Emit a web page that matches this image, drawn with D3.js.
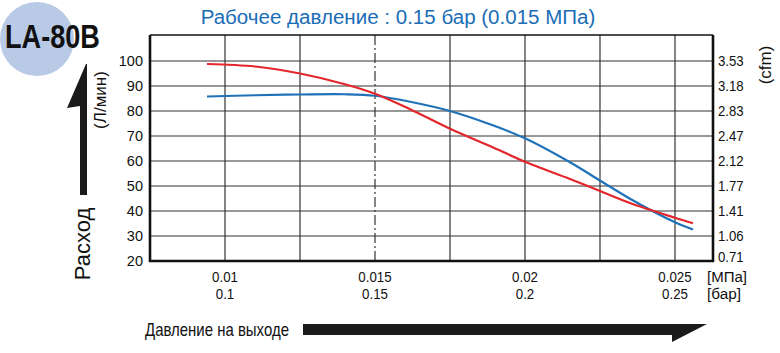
<!DOCTYPE html>
<html>
<head>
<meta charset="utf-8">
<script src="https://cdn.jsdelivr.net/npm/d3@7"></script>
<style>
  body { margin: 0; background: #fff; }
  svg { display: block; }
  text { font-family: "Liberation Sans", Arial, sans-serif; fill: #111; }
</style>
</head>
<body>
<svg id="chart"></svg>
<script>
// outlet pressure, MPa
const pressure = [0.0094, 0.0110, 0.0125, 0.0140, 0.0150, 0.01617, 0.0175, 0.01883, 0.0200, 0.0215, 0.0225, 0.0235, 0.0250, 0.0256];
// flow, L/min
const redFlow  = [98.8, 97.8, 95.0, 90.7, 86.9, 80.7, 72.9, 66.0, 59.7, 52.8, 48.0, 43.2, 37.3, 35.1];
const blueFlow = [85.8, 86.3, 86.6, 86.7, 86.1, 83.7, 80.0, 74.7, 69.1, 59.5, 52.2, 44.9, 35.5, 32.6];

const flowTicks = [20, 30, 40, 50, 60, 70, 80, 90, 100];
const cfmLabels = ['0.71', '1.06', '1.41', '1.77', '2.12', '2.47', '2.83', '3.18', '3.53'];
const gridX = [0.01, 0.0125, 0.015, 0.0175, 0.02, 0.0225, 0.025];
const mpaTicks = [0.01, 0.015, 0.02, 0.025];
const mpaLabels = ['0.01', '0.015', '0.02', '0.025'];
const barLabels = ['0.1', '0.15', '0.2', '0.25'];

const W = 780, H = 353;
const margin = { top: 35, bottom: 92, left: 150, right: 67 };

const svg = d3.select('#chart').attr('width', W).attr('height', H);

const x = d3.scaleLinear().domain([0.0075, 0.026267]).range([margin.left, W - margin.right]);
const y = d3.scaleLinear().domain([20, 110.4]).range([H - margin.bottom, margin.top]);

// condensed text: horizontal squeeze, either by factor k or to a target width
function ctext(parent, px, py, str, size, opt) {
  opt = opt || {};
  const g = parent.append('g');
  const t = g.append('text')
    .style('font-size', size + 'px')
    .style('font-weight', opt.bold ? 'bold' : null)
    .style('fill', opt.color || '#111')
    .attr('text-anchor', opt.anchor || 'start')
    .text(str);
  let k = opt.k || 0.88;
  if (opt.width) k = opt.width / t.node().getComputedTextLength();
  g.attr('transform', `translate(${px},${py}) scale(${k},1)`);
  return g;
}

// badge
svg.append('circle').attr('cx', 37).attr('cy', 39).attr('r', 37).attr('fill', '#b9cae6');
ctext(svg, 5, 48, 'LA-80B', 34, { bold: true, width: 95 });

// title
ctext(svg, 398, 24, 'Рабочее давление : 0.15 бар (0.015 МПа)', 21, { anchor: 'middle', width: 395, color: '#1a6db5' });

// grid
const x0 = x.range()[0], x1 = x.range()[1], yb = y.range()[0], yt = y.range()[1];
const grid = svg.append('g');
grid.selectAll('.hg').data(flowTicks.slice(1)).join('line')
  .attr('x1', x0).attr('x2', x1)
  .attr('y1', d => y(d)).attr('y2', d => y(d))
  .attr('stroke', '#333').attr('stroke-width', 1.2);
grid.selectAll('.vg').data(gridX).join('line')
  .attr('x1', d => x(d)).attr('x2', d => x(d))
  .attr('y1', yb).attr('y2', yt)
  .attr('stroke', '#333').attr('stroke-width', 1.2)
  .attr('stroke-dasharray', d => d === 0.015 ? '10,3,2,3' : null);

// frame
svg.append('line').attr('x1', x0).attr('x2', x1).attr('y1', yt).attr('y2', yt)
  .attr('stroke', '#111').attr('stroke-width', 1.5);
svg.append('path').attr('d', `M${x0},${yt}V${yb}H${x1}V${yt}`)
  .attr('fill', 'none').attr('stroke', '#111').attr('stroke-width', 2.6);

// curves
const line = d3.line().x(d => x(d[0])).y(d => y(d[1])).curve(d3.curveCatmullRom.alpha(0.5));
svg.append('path').datum(d3.zip(pressure, blueFlow)).attr('d', line)
  .attr('fill', 'none').attr('stroke', '#1f72b8').attr('stroke-width', 2.2);
svg.append('path').datum(d3.zip(pressure, redFlow)).attr('d', line)
  .attr('fill', 'none').attr('stroke', '#e3262b').attr('stroke-width', 2.2);

// left axis labels
svg.selectAll('.yl').data(flowTicks).join('text')
  .attr('x', x0 - 7).attr('y', d => y(d) + 5).attr('text-anchor', 'end')
  .style('font-size', '14.5px').text(d => d);

// right axis labels (cfm)
flowTicks.forEach((d, i) => {
  ctext(svg, x1 + 5, d === 20 ? y(d) + 1 : y(d) + 5, cfmLabels[i], 15, { k: 0.88 });
});
svg.append('text')
  .attr('transform', 'translate(771,65) rotate(-90)').attr('text-anchor', 'middle')
  .style('font-size', '17px').text('(cfm)');

// bottom labels
mpaTicks.forEach((d, i) => {
  ctext(svg, x(d), 282, mpaLabels[i], 15.5, { anchor: 'middle', k: 0.86 });
  ctext(svg, x(d), 299, barLabels[i], 15.5, { anchor: 'middle', k: 0.86 });
});
ctext(svg, 707, 282, '[МПа]', 15.5, { width: 40 });
ctext(svg, 707, 299, '[бар]', 15.5, { width: 34 });

// y axis title + arrow
svg.append('text')
  .attr('transform', 'translate(90,244) rotate(-90)').attr('text-anchor', 'middle')
  .style('font-size', '22px').text('Расход');
svg.append('text')
  .attr('transform', 'translate(106,100) rotate(-90)').attr('text-anchor', 'middle')
  .style('font-size', '17px').text('(Л/мин)');
svg.append('path')
  .attr('d', 'M80,195 V106 L67,108 L86,64 L87,64 V195 Z')
  .attr('fill', '#1a1a1a');

// x axis title + arrow
ctext(svg, 145, 336, 'Давление на выходе', 19, { width: 144 });
svg.append('path')
  .attr('d', 'M303,324 H707 L672,342 V335 H303 Z')
  .attr('fill', '#1a1a1a');
</script>
</body>
</html>
